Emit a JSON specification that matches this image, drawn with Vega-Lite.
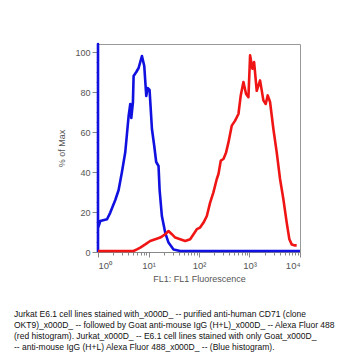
{
  "$schema": "https://vega.github.io/schema/vega-lite/v6.json",
  "autosize": {"type": "none"},
  "width": 202,
  "height": 208,
  "padding": {"left": 98, "top": 44, "right": 63, "bottom": 108},
  "background": "white",
  "config": {
    "view": {"stroke": "#999", "strokeWidth": 1},
    "font": "Liberation Sans"
  },
  "title": {
    "text": [
      "Jurkat E6.1 cell lines stained with_x000D_ -- purified anti-human CD71 (clone",
      "OKT9)_x000D_ -- followed by Goat anti-mouse IgG (H+L)_x000D_ -- Alexa Fluor 488",
      "(red histogram). Jurkat_x000D_ -- E6.1 cell lines stained with only Goat_x000D_",
      "-- anti-mouse IgG (H+L) Alexa Fluor 488_x000D_ -- (Blue histogram)."
    ],
    "orient": "bottom",
    "anchor": "start",
    "align": "left",
    "frame": "group",
    "dx": -84,
    "offset": 26,
    "fontSize": 8.5,
    "fontWeight": "normal",
    "lineHeight": 11.2,
    "color": "#111",
    "font": "Liberation Sans"
  },
  "data": {
    "values": [
      {"s": "blue", "o": 0, "x": 1, "y": 0},
      {"s": "blue", "o": 1, "x": 1, "y": 104},
      {"s": "blue", "o": 2, "x": 1, "y": 12},
      {"s": "blue", "o": 3, "x": 1.11, "y": 15.5},
      {"s": "blue", "o": 4, "x": 1.51, "y": 16.4},
      {"s": "blue", "o": 5, "x": 1.75, "y": 19.7},
      {"s": "blue", "o": 6, "x": 2.2, "y": 26},
      {"s": "blue", "o": 7, "x": 2.56, "y": 31},
      {"s": "blue", "o": 8, "x": 2.98, "y": 40},
      {"s": "blue", "o": 9, "x": 3.47, "y": 50},
      {"s": "blue", "o": 10, "x": 4.04, "y": 68},
      {"s": "blue", "o": 11, "x": 4.36, "y": 74},
      {"s": "blue", "o": 12, "x": 4.56, "y": 67},
      {"s": "blue", "o": 13, "x": 4.92, "y": 75},
      {"s": "blue", "o": 14, "x": 5.07, "y": 88},
      {"s": "blue", "o": 15, "x": 5.73, "y": 90},
      {"s": "blue", "o": 16, "x": 6.37, "y": 92},
      {"s": "blue", "o": 17, "x": 7.41, "y": 98},
      {"s": "blue", "o": 18, "x": 8.24, "y": 93},
      {"s": "blue", "o": 19, "x": 9.03, "y": 78},
      {"s": "blue", "o": 20, "x": 9.59, "y": 82},
      {"s": "blue", "o": 21, "x": 10.5, "y": 81},
      {"s": "blue", "o": 22, "x": 11.7, "y": 61.5},
      {"s": "blue", "o": 23, "x": 13.0, "y": 53},
      {"s": "blue", "o": 24, "x": 14.2, "y": 45},
      {"s": "blue", "o": 25, "x": 15.8, "y": 43},
      {"s": "blue", "o": 26, "x": 16.6, "y": 31},
      {"s": "blue", "o": 27, "x": 18.4, "y": 18},
      {"s": "blue", "o": 28, "x": 21.4, "y": 9.7},
      {"s": "blue", "o": 29, "x": 24.9, "y": 4.7},
      {"s": "blue", "o": 30, "x": 31.3, "y": 1.3},
      {"s": "blue", "o": 31, "x": 42.4, "y": 0.5},
      {"s": "blue", "o": 32, "x": 480, "y": 0.5},
      {"s": "blue", "o": 33, "x": 10000, "y": 0.5},
      {"s": "red", "o": 0, "x": 1, "y": 0.5},
      {"s": "red", "o": 1, "x": 5.07, "y": 0.5},
      {"s": "red", "o": 2, "x": 5.9, "y": 1.3},
      {"s": "red", "o": 3, "x": 6.87, "y": 2.2},
      {"s": "red", "o": 4, "x": 8.62, "y": 3.8},
      {"s": "red", "o": 5, "x": 10.8, "y": 5.5},
      {"s": "red", "o": 6, "x": 13.6, "y": 6.4},
      {"s": "red", "o": 7, "x": 17.1, "y": 7.2},
      {"s": "red", "o": 8, "x": 21.4, "y": 8.9},
      {"s": "red", "o": 9, "x": 24.9, "y": 10.5},
      {"s": "red", "o": 10, "x": 29.0, "y": 8.9},
      {"s": "red", "o": 11, "x": 33.8, "y": 7.2},
      {"s": "red", "o": 12, "x": 42.4, "y": 6.4},
      {"s": "red", "o": 13, "x": 53.3, "y": 5.5},
      {"s": "red", "o": 14, "x": 66.9, "y": 6.4},
      {"s": "red", "o": 15, "x": 77.9, "y": 8.9},
      {"s": "red", "o": 16, "x": 90.6, "y": 11.4},
      {"s": "red", "o": 17, "x": 105, "y": 12.2},
      {"s": "red", "o": 18, "x": 123, "y": 14.7},
      {"s": "red", "o": 19, "x": 143, "y": 18},
      {"s": "red", "o": 20, "x": 166, "y": 24.7},
      {"s": "red", "o": 21, "x": 193, "y": 29.8},
      {"s": "red", "o": 22, "x": 225, "y": 36.5},
      {"s": "red", "o": 23, "x": 243, "y": 39},
      {"s": "red", "o": 24, "x": 270, "y": 45.7},
      {"s": "red", "o": 25, "x": 305, "y": 46.5},
      {"s": "red", "o": 26, "x": 344, "y": 49.8},
      {"s": "red", "o": 27, "x": 383, "y": 54.8},
      {"s": "red", "o": 28, "x": 446, "y": 63.2},
      {"s": "red", "o": 29, "x": 519, "y": 65.7},
      {"s": "red", "o": 30, "x": 604, "y": 69},
      {"s": "red", "o": 31, "x": 671, "y": 78.3},
      {"s": "red", "o": 32, "x": 758, "y": 85},
      {"s": "red", "o": 33, "x": 856, "y": 79},
      {"s": "red", "o": 34, "x": 953, "y": 77.4},
      {"s": "red", "o": 35, "x": 1028, "y": 98.3},
      {"s": "red", "o": 36, "x": 1143, "y": 91.6},
      {"s": "red", "o": 37, "x": 1233, "y": 95},
      {"s": "red", "o": 38, "x": 1391, "y": 80.6},
      {"s": "red", "o": 39, "x": 1619, "y": 85.8},
      {"s": "red", "o": 40, "x": 1884, "y": 75.8},
      {"s": "red", "o": 41, "x": 2095, "y": 74},
      {"s": "red", "o": 42, "x": 2296, "y": 78.3},
      {"s": "red", "o": 43, "x": 2553, "y": 75},
      {"s": "red", "o": 44, "x": 2972, "y": 61.5},
      {"s": "red", "o": 45, "x": 3459, "y": 49.8},
      {"s": "red", "o": 46, "x": 4027, "y": 36.5},
      {"s": "red", "o": 47, "x": 4687, "y": 26.4},
      {"s": "red", "o": 48, "x": 5455, "y": 14.7},
      {"s": "red", "o": 49, "x": 6157, "y": 6.4},
      {"s": "red", "o": 50, "x": 6846, "y": 3.8},
      {"s": "red", "o": 51, "x": 7967, "y": 3.3},
      {"s": "red", "o": 52, "x": 8597, "y": 3.3}
    ]
  },
  "mark": {"type": "line", "strokeWidth": 2.6, "strokeJoin": "round"},
  "encoding": {
    "x": {
      "field": "x", "type": "quantitative",
      "scale": {"type": "log", "domain": [1, 10000], "nice": false},
      "axis": {
        "title": "FL1: FL1 Fluorescence",
        "titleFontSize": 9, "titleFontWeight": "normal", "titleColor": "#555", "titlePadding": 5,
        "values": [1,2,3,4,5,6,7,8,9,10,20,30,40,50,60,70,80,90,100,200,300,400,500,600,700,800,900,1000,2000,3000,4000,5000,6000,7000,8000,9000,10000],
        "labelExpr": "indexof([1,10,100,1000,10000], datum.value) >= 0 ? '10' + ['⁰','¹','²','³','⁴'][round(log(datum.value)/LN10)] : ''",
        "labelFontSize": 9.5, "labelColor": "#555", "labelPadding": 3,
        "tickSize": {"condition": {"test": "indexof([1,10,100,1000,10000], datum.value) >= 0", "value": 5}, "value": 3},
        "tickColor": "#888", "domainColor": "#888", "grid": false,
        "labelOverlap": false
      }
    },
    "y": {
      "field": "y", "type": "quantitative",
      "scale": {"domain": [0, 104], "nice": false, "zero": false},
      "axis": {
        "title": "% of Max",
        "titleFontSize": 9, "titleFontWeight": "normal", "titleColor": "#555", "titlePadding": 8,
        "values": [0,5,10,15,20,25,30,35,40,45,50,55,60,65,70,75,80,85,90,95,100],
        "labelExpr": "datum.value % 20 === 0 ? datum.label : ''",
        "labelFontSize": 9, "labelColor": "#555", "labelPadding": 2,
        "tickSize": {"condition": {"test": "datum.value % 20 === 0", "value": 6}, "value": 2},
        "tickColor": "#888", "domainColor": "#888", "grid": false
      }
    },
    "color": {
      "field": "s", "type": "nominal",
      "scale": {"domain": ["blue", "red"], "range": ["#1010e0", "#f01515"]},
      "legend": null
    },
    "order": {"field": "o", "type": "quantitative"}
  }
}
